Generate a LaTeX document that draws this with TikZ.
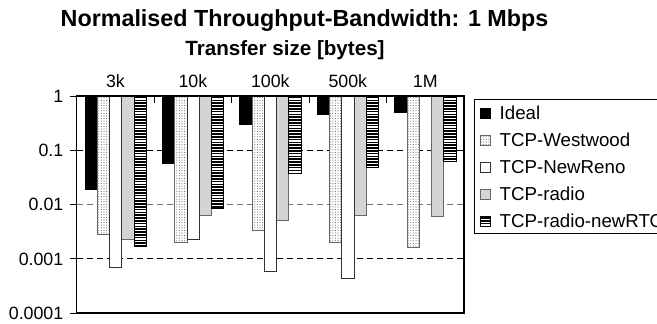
\documentclass[tikz,border=0pt]{standalone}
\usepackage{fontspec}
\setmainfont{Liberation Sans}
\usetikzlibrary{patterns.meta}
\newcommand\rtostripes[4]{%
  \fill[white] (#1,#2) rectangle (#3,#4);
  \begin{scope}
    \clip (#1,#2) rectangle (#3,#4);
    \pgfmathsetmacro\ystartA{#2+1.6}
    \pgfmathsetmacro\ystartB{#2+4.4}
    \foreach \yy in {\ystartA,\ystartB,...,#4}{
      \draw[line width=1.5pt] (#1,\yy) -- (#3,\yy);
    }
  \end{scope}
  \draw[line width=0.9pt, draw=black] (#1,#2) rectangle (#3,#4);
}
\begin{document}
\begin{tikzpicture}[x=1pt,y=-1pt,
  barbase/.style={line width=0.9pt},
  idealbar/.style={barbase, fill=black, draw=black},
  westbar/.style={barbase, draw=black!60, preaction={fill=white}, pattern={Dots[distance=2.6pt,radius=0.55pt]}, pattern color=black!60},
  renobar/.style={barbase, draw=black!80, fill=white},
  radiobar/.style={barbase, draw=black!60, fill=black!17},
  gridblack/.style={line width=0.8pt, black, dash pattern=on 6pt off 4pt},
  gridgray/.style={line width=0.8pt, black!55, dash pattern=on 6pt off 4pt},
  ticklab/.style={font=\fontsize{17.8}{20}\selectfont, inner sep=0pt},
  leglab/.style={font=\fontsize{18.7}{21}\selectfont, inner sep=0pt, anchor=base west},
]
\useasboundingbox (0,0) rectangle (657,324);
\clip (0,0) rectangle (657,324);
\fill[white] (0,0) rectangle (657,324);

% titles
\node[font=\bfseries\fontsize{23.3}{26}\selectfont, inner sep=0pt, anchor=base] (title) at (304.5,26.5) {Normalised Throughput-Bandwidth: 1 Mbps};
\node[font=\bfseries\fontsize{20.6}{24}\selectfont, inner sep=0pt, anchor=base] (xtitle) at (285,55) {Transfer size [bytes]};

% category labels
\foreach \g/\lab in {0/3k,1/10k,2/100k,3/500k,4/1M}{
  \pgfmathsetmacro\xc{76.7+77.46*\g+38.73}
  \node[ticklab, anchor=base] (cat\g) at (\xc,87.5) {\lab};
}

% gridlines
\draw[gridblack] (76.7,150.25) -- (464,150.25);
\draw[gridgray] (76.7,204.5) -- (464,204.5);
\draw[gridblack] (76.7,258.75) -- (464,258.75);

% bars
\foreach \g/\a/\b/\d/\e in {0/189.3/234/239.7/246, 1/163.3/242.7/215.3/208.3, 2/124.3/230/220/173, 3/114/242.7/215.3/167.3, 4/112/247.7/216/161}{
  \pgfmathsetmacro\xs{76.7+77.46*\g+8.3}
  \pgfmathsetmacro\xr{\xs+49}
  \pgfmathsetmacro\xrr{\xs+61.25}
  \draw[idealbar] (\xs,96) rectangle (\xs+12.25,\a);
  \draw[westbar] (\xs+12.25,96) rectangle (\xs+24.5,\b);
  \draw[radiobar] (\xs+36.75,96) rectangle (\xs+49,\d);
  \rtostripes{\xr}{96}{\xrr}{\e}
}
\foreach \g/\c in {0/267.7, 1/239, 2/271.7, 3/278.3}{
  \pgfmathsetmacro\xs{76.7+77.46*\g+8.3}
  \draw[renobar] (\xs+24.5,96) rectangle (\xs+36.75,\c);
}

% frame
\draw[line width=1.1pt] (76.7,96) rectangle (464,313);

% y ticks and labels
\foreach \y/\lab in {96/1, 150.25/0.1, 204.5/0.01, 258.75/0.001, 313/0.0001}{
  \draw[line width=1pt] (70,\y) -- (76.7,\y);
  \node[ticklab, anchor=base east] (yl\lab) at (63.5,\y+6.3) {\lab};
}
% category ticks
\foreach \g in {1,2,3,4}{
  \draw[line width=1pt] (76.7+77.46*\g,96) -- (76.7+77.46*\g,102.5);
}

% legend
\draw[line width=1pt, fill=white] (474,99) rectangle (690,233.3);
\foreach \i/\st/\lab in {0/idealbar/Ideal, 1/westbar/TCP-Westwood, 2/renobar/TCP-NewReno, 3/radiobar/TCP-radio}{
  \pgfmathsetmacro\yc{113.5+27*\i}
  \draw[\st, line width=0.8pt] (480.5,\yc-5) rectangle (490.5,\yc+5);
  \node[leglab] (leg\i) at (499.5,\yc+6.3) {\lab};
}
\rtostripes{480.5}{216.5}{490.5}{226.5}
\node[leglab] (leg4) at (499.5,227.8) {TCP-radio-newRTO};
\end{tikzpicture}
\end{document}
